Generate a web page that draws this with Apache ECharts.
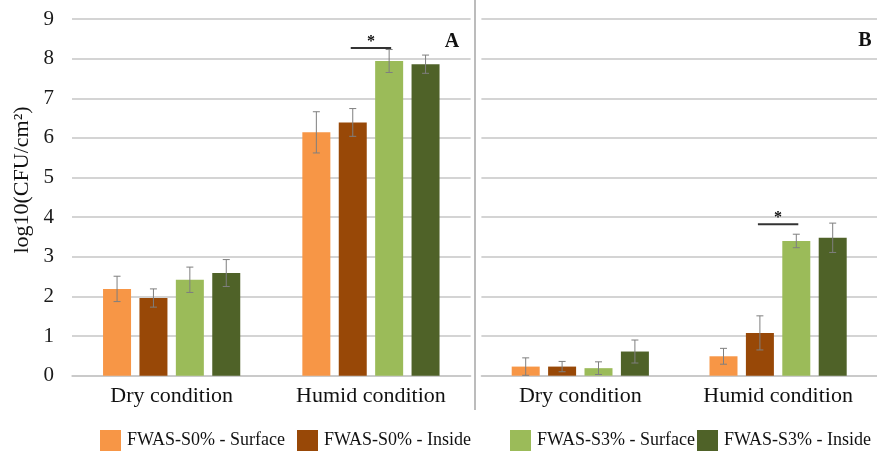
<!DOCTYPE html>
<html>
<head>
<meta charset="utf-8">
<script src="https://cdn.jsdelivr.net/npm/echarts@6/dist/echarts.min.js"></script>
<style>html,body{margin:0;padding:0;background:#fff;}#c{width:877px;height:454px;}</style>
</head>
<body>
<div id="c"></div>
<script>
// ---- data ----
const categories = ['Dry condition', 'Humid condition'];
const seriesNames = ['FWAS-S0% - Surface', 'FWAS-S0% - Inside', 'FWAS-S3% - Surface', 'FWAS-S3% - Inside'];
const seriesColors = ['#F79646', '#984807', '#9BBB59', '#4F6228'];
const yMin = 0, yMax = 9, yStep = 1;

// Panel A
const aS0Surface = [2.19, 6.14];
const aS0Inside  = [1.96, 6.39];
const aS3Surface = [2.42, 7.94];
const aS3Inside  = [2.59, 7.86];
const aS0SurfaceErr = [0.32, 0.52];
const aS0InsideErr  = [0.23, 0.35];
const aS3SurfaceErr = [0.32, 0.29];
const aS3InsideErr  = [0.34, 0.23];
// Panel B
const bS0Surface = [0.23, 0.49];
const bS0Inside  = [0.23, 1.08];
const bS3Surface = [0.19, 3.40];
const bS3Inside  = [0.61, 3.48];
const bS0SurfaceErr = [0.22, 0.20];
const bS0InsideErr  = [0.13, 0.43];
const bS3SurfaceErr = [0.16, 0.17];
const bS3InsideErr  = [0.29, 0.37];
// significance: [category index, level, from bar, to bar]
const sigA = [1, 8.27, 1, 2];
const sigB = [1, 3.82, 1, 2];
const panelLabels = ['A', 'B'];

// ---- chart ----
const FONT = "'Liberation Serif', 'Times New Roman', serif";
const BAR_W = 28, GAP_RATIO = 0.3;
const GRID_COLOR = '#c6c6c6';
const offsetOf = i => (i - 1.5) * BAR_W * (1 + GAP_RATIO);

const panels = [
  { means: [aS0Surface, aS0Inside, aS3Surface, aS3Inside], errs: [aS0SurfaceErr, aS0InsideErr, aS3SurfaceErr, aS3InsideErr], sig: sigA },
  { means: [bS0Surface, bS0Inside, bS3Surface, bS3Inside], errs: [bS0SurfaceErr, bS0InsideErr, bS3SurfaceErr, bS3InsideErr], sig: sigB }
];

const series = [];
panels.forEach((p, g) => {
  p.means.forEach((vals, i) => {
    series.push({
      type: 'bar', name: seriesNames[i], xAxisIndex: g, yAxisIndex: g,
      data: vals, barWidth: BAR_W, barGap: (GAP_RATIO * 100) + '%',
      itemStyle: { color: seriesColors[i] }, z: 2
    });
  });
  const errData = [];
  p.means.forEach((vals, i) => vals.forEach((v, c) => errData.push([c, v, p.errs[i][c], i])));
  series.push({
    type: 'custom', xAxisIndex: g, yAxisIndex: g, z: 5, silent: true,
    data: errData, encode: { x: 0, y: 1 },
    renderItem: function (params, api) {
      const c = api.value(0), v = api.value(1), e = api.value(2), i = api.value(3);
      const top = api.coord([c, v + e]);
      const bot = api.coord([c, Math.max(0, v - e)]);
      const x = top[0] + offsetOf(i);
      const st = { stroke: '#7f7f7f', lineWidth: 1 };
      return { type: 'group', children: [
        { type: 'line', shape: { x1: x, y1: top[1], x2: x, y2: bot[1] }, style: st },
        { type: 'line', shape: { x1: x - 3.5, y1: top[1], x2: x + 3.5, y2: top[1] }, style: st },
        { type: 'line', shape: { x1: x - 3.5, y1: bot[1], x2: x + 3.5, y2: bot[1] }, style: st }
      ]};
    }
  });
  series.push({
    type: 'custom', xAxisIndex: g, yAxisIndex: g, z: 6, silent: true,
    data: [p.sig], encode: { x: 0, y: 1 },
    renderItem: function (params, api) {
      const pt = api.coord([api.value(0), api.value(1)]);
      const x1 = pt[0] + offsetOf(api.value(2)) - 2;
      const x2 = pt[0] + offsetOf(api.value(3)) + 2;
      return { type: 'group', children: [
        { type: 'line', shape: { x1: x1, y1: pt[1], x2: x2, y2: pt[1] }, style: { stroke: '#333', lineWidth: 2 } },
        { type: 'text', style: { x: (x1 + x2) / 2, y: pt[1] - 6, text: '*', fontSize: 16, fontWeight: 'bold', fontFamily: FONT, fill: '#111', align: 'center', verticalAlign: 'middle' } }
      ]};
    }
  });
});

const xAxisBase = g => ({
  type: 'category', gridIndex: g, data: categories,
  axisLine: { lineStyle: { color: GRID_COLOR, width: 1.5 } },
  axisTick: { show: false },
  axisLabel: { fontFamily: FONT, fontSize: 22, color: '#111', margin: 10 }
});
const yAxisBase = g => ({
  type: 'value', gridIndex: g, min: yMin, max: yMax, interval: yStep,
  axisLine: { show: false }, axisTick: { show: false },
  axisLabel: { show: g === 0, fontFamily: FONT, fontSize: 21, color: '#1a1a1a', margin: 18 },
  splitLine: { lineStyle: { color: GRID_COLOR, width: 1.5 } }
});

const legendLefts = [100, 297, 510, 697];
const option = {
  animation: false,
  backgroundColor: '#fff',
  grid: [
    { left: 72, top: 19, width: 398.6, height: 356.7 },
    { left: 481.4, top: 19, width: 399.2, height: 356.7 }
  ],
  xAxis: [xAxisBase(0), xAxisBase(1)],
  yAxis: [yAxisBase(0), yAxisBase(1)],
  legend: seriesNames.map((n, i) => ({
    data: [n], left: legendLefts[i], top: 430, padding: 0,
    itemWidth: 21, itemHeight: 21, icon: 'rect', selectedMode: false,
    textStyle: { fontFamily: FONT, fontSize: 18, color: '#111', padding: [0, 0, 0, 1] }
  })),
  graphic: [
    { type: 'line', shape: { x1: 475, y1: 0, x2: 475, y2: 410 }, style: { stroke: '#a6a6a6', lineWidth: 1.5 }, z: 10 },
    { type: 'text', x: 22, y: 180, rotation: Math.PI / 2, style: { text: 'log10(CFU/cm²)', fontFamily: FONT, fontSize: 22, fill: '#111', align: 'center', verticalAlign: 'middle' } },
    { type: 'text', x: 452, y: 42, style: { text: panelLabels[0], fontFamily: FONT, fontSize: 20, fontWeight: 'bold', fill: '#111', align: 'center', verticalAlign: 'middle' } },
    { type: 'text', x: 865, y: 41, style: { text: panelLabels[1], fontFamily: FONT, fontSize: 20, fontWeight: 'bold', fill: '#111', align: 'center', verticalAlign: 'middle' } }
  ],
  series: series
};
const chart = echarts.init(document.getElementById('c'), null, { renderer: 'canvas' });
chart.setOption(option);
</script>
</body>
</html>
